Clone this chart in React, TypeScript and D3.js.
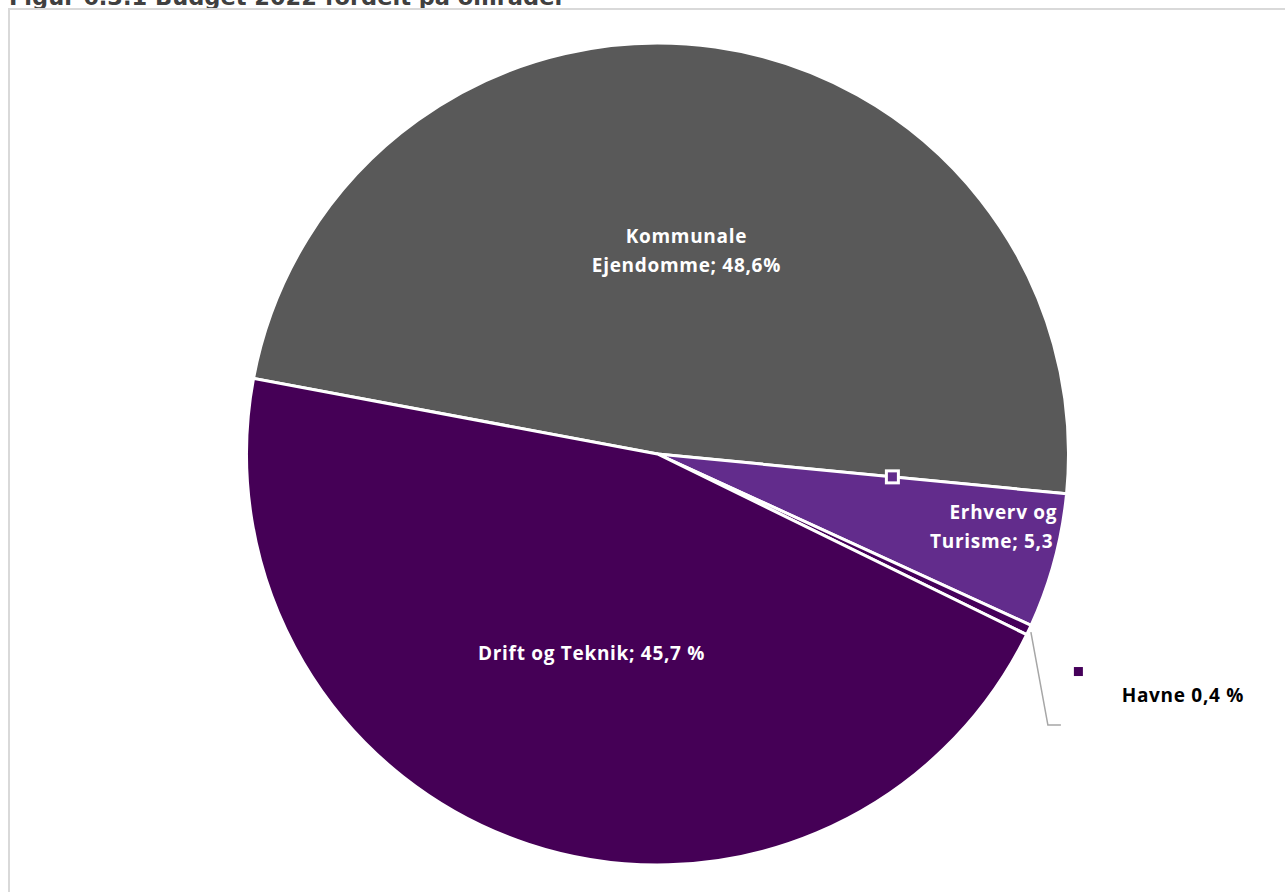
import React from "react";
import * as d3 from "d3";

const categories = ["Kommunale Ejendomme", "Erhverv og Turisme", "Havne", "Drift og Teknik"];
const values = [48.6, 5.3, 0.4, 45.7];
const labelLines = [
  ["Kommunale", "Ejendomme; 48,6%"],
  ["Erhverv og", "Turisme; 5,3 %"],
  ["Havne 0,4 %"],
  ["Drift og Teknik; 45,7 %"],
];
const colors = ["#595959", "#622C8C", "#45005A", "#450056"];
const title = "Figur 6.3.1 Budget 2022 fordelt på områder";

const W = 1285;
const H = 892;
const cx = 657.5;
const cy = 454;
const R = 411;
const startDeg = -79.4;
const labelRadius = [0.5, 0.86, 1, 0.51];
const labelAngleShiftDeg = [0, -3.2, 0, 0];

export default function App() {
  const start = (startDeg * Math.PI) / 180;
  const pie = d3
    .pie<number>()
    .sort(null)
    .value((d) => d)
    .startAngle(start)
    .endAngle(start + 2 * Math.PI);
  const arcs = pie(values);
  const arc = d3.arc<d3.PieArcDatum<number>>().innerRadius(0).outerRadius(R);

  const polar = (a: number, r: number): [number, number] => [Math.sin(a) * r, -Math.cos(a) * r];

  const havne = arcs[2];
  const havneMid = (havne.startAngle + havne.endAngle) / 2;
  const [hx0, hy0] = polar(havneMid, R);
  const leader = d3.line()([
    [hx0 + 2, hy0 + 2],
    [hx0 + 19, hy0 + 95],
    [hx0 + 32, hy0 + 95],
  ]);

  // handle marker at Kommunale / Erhverv boundary
  const [mx, my] = polar(arcs[1].startAngle, 236);

  const font = "'Open Sans', sans-serif";

  return (
    <svg
      width={W}
      height={H}
      style={{ position: "absolute", left: 0, top: 0, background: "#fff" }}
    >
      <text
        x={9}
        y={5}
        fontFamily="DejaVu Sans"
        fontWeight="bold"
        fontSize={22.5}
        fill="#404040"
      >
        {title}
      </text>
      <rect x={9} y={9} width={W} height={H} fill="#fff" stroke="#d9d9d9" strokeWidth={2} />
      <g transform={`translate(${cx},${cy})`}>
        {arcs.map((a, i) => (
          <path key={categories[i]} d={arc(a) || ""} fill={colors[i]} stroke="#fff" strokeWidth={3} strokeLinejoin="round" />
        ))}
        <path d={leader || ""} fill="none" stroke="#a6a6a6" strokeWidth={1.5} />
        <rect x={mx - 6} y={my - 6} width={12} height={12} fill={colors[1]} stroke="#fff" strokeWidth={3} />
        {arcs.map((a, i) => {
          const mid = (a.startAngle + a.endAngle) / 2 + (labelAngleShiftDeg[i] * Math.PI) / 180;
          if (i === 2) {
            return (
              <g key={"l" + i}>
                <rect x={hx0 + 45} y={hy0 + 37} width={9} height={9} fill={colors[2]} />
                <text
                  x={hx0 + 154}
                  y={hy0 + 72}
                  textAnchor="middle"
                  fontFamily={font}
                  fontWeight="bold"
                  fontSize={19}
                  letterSpacing={0.7}
                  fill="#000"
                >
                  {labelLines[i][0]}
                </text>
              </g>
            );
          }
          const [lx, ly] = polar(mid, R * labelRadius[i]);
          const lines = labelLines[i];
          const lh = 29;
          return (
            <text
              key={"l" + i}
              textAnchor="middle"
              fontFamily={font}
              fontWeight="bold"
              fontSize={19}
              letterSpacing={0.7}
              fill="#fff"
            >
              {lines.map((t, j) => (
                <tspan key={j} x={lx} y={ly + (j - (lines.length - 1) / 2) * lh} dy="0.35em">
                  {t}
                </tspan>
              ))}
            </text>
          );
        })}
      </g>
    </svg>
  );
}
